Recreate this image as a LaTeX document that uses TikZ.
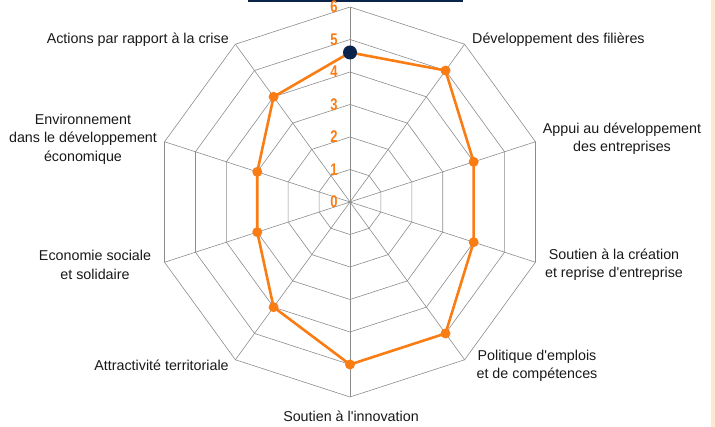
\documentclass[tikz,border=0pt]{standalone}
\usepackage{fontspec}
\setmainfont{Liberation Sans}
\definecolor{gridgray}{RGB}{140,140,140}
\definecolor{chartorange}{RGB}{250,125,20}
\definecolor{navy}{RGB}{10,35,75}
\definecolor{peach}{RGB}{255,232,210}
\newcommand{\apos}{\XeTeXglyph\XeTeXglyphindex "quotesingle"\relax}
\begin{document}
\begin{tikzpicture}[x=1pt,y=1pt,
  gridline/.style={draw=gridgray,line width=0.6pt},
  series/.style={draw=chartorange,line width=2.6pt,line join=round},
  dotmark/.style={circle,fill=chartorange,inner sep=0pt,minimum size=10pt},
  axlabel/.style={font=\fontsize{14.3}{18.5}\selectfont,align=center,inner sep=0pt,text=black!90},
  ticklabel/.style={font=\fontsize{13}{13}\bfseries\selectfont,text=chartorange,inner sep=0pt}]
\useasboundingbox (0,0) rectangle (715,427);
\fill[navy] (248,425) rectangle (463,427);
\fill[peach] (711,0) rectangle (715,427);
\begin{scope}[shift={(350,225)}]
  \def\u{32.5}
  % rings
  \foreach \k in {1,...,6}{
    \draw[gridline] (90:\k*\u) \foreach \i in {1,...,9}{ -- ({90-36*\i}:\k*\u)} -- cycle;
  }
  % spokes
  \coordinate (c) at (0,0);
  \foreach \i in {0,...,9}{
    \coordinate (v\i) at ({90-36*\i}:6*\u);
    \draw[gridline] (c) -- (v\i);
  }
  % tick labels
  \foreach \k in {0,...,6}{
    \node[ticklabel] (t\k) at (-16,\k*\u) {\scalebox{1}[1.3]{\k}};
  }
  % data
  \def\vals{4.6,5,4,4,5,5,4,3,3,4}
  \foreach \v [count=\n from 0] in \vals{
    \coordinate (p\n) at ({90-36*\n}:\v*\u);
  }
  \draw[series] (p0) -- (p1) -- (p2) -- (p3) -- (p4) -- (p5) -- (p6) -- (p7) -- (p8) -- (p9) -- cycle;
  \foreach \n in {1,...,9}{ \node[dotmark] (d\n) at (p\n) {}; }
  \node[circle,fill=navy,inner sep=0pt,minimum size=14pt] (d0) at (p0) {};
\end{scope}
% axis labels
\node[axlabel,anchor=west] (l1) at (472,387) {Développement des filières};
\node[axlabel] (l2) at (622,288.5) {Appui au développement\\des entreprises};
\node[axlabel] (l3) at (614,162.5) {Soutien à la création\\et reprise d\apos entreprise};
\node[axlabel] (l4) at (537,61) {Politique d\apos emplois\\et de compétences};
\node[axlabel] (l5) at (351,11) {Soutien à l\apos innovation};
\node[axlabel] (l6) at (161.5,62) {Attractivité territoriale};
\node[axlabel] (l7) at (95,162) {Economie sociale\\et solidaire};
\node[axlabel] (l8) at (83,288) {Environnement\\dans le développement\\économique};
\node[axlabel,anchor=east] (l9) at (229,387) {Actions par rapport à la crise};
\end{tikzpicture}
\end{document}
